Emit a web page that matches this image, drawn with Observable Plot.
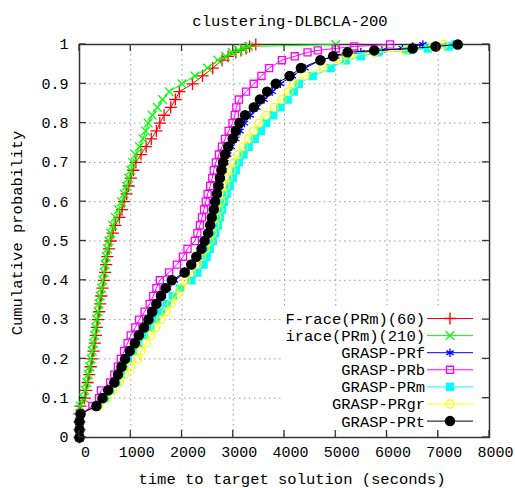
<!DOCTYPE html>
<html><head><meta charset="utf-8">
<script src="https://cdn.jsdelivr.net/npm/d3@7"></script>
<script src="https://cdn.jsdelivr.net/npm/@observablehq/plot@0.6"></script>
<style>
body{margin:0;background:#fff}
#chart svg{display:block}
</style>
</head><body><div id="chart"></div>
<script>
// ---------- text ----------
const titleText = "clustering-DLBCLA-200";
const xLabel = "time to target solution (seconds)";
const yLabel = "Cumulative probability";
const seriesNames = ["F-race(PRm)(60)", "irace(PRm)(210)", "GRASP-PRf", "GRASP-PRb", "GRASP-PRm", "GRASP-PRgr", "GRASP-PRt"];

// ---------- ticks ----------
const xTicks = [0, 1000, 2000, 3000, 4000, 5000, 6000, 7000, 8000];
const yTicks = [0, 0.1, 0.2, 0.3, 0.4, 0.5, 0.6, 0.7, 0.8, 0.9, 1];

// ---------- data: cumulative probability levels and time (s) read at each level ----------
const probLevels = [0,0.02,0.04,0.06,0.08,0.10,0.12,0.14,0.16,0.18,0.20,0.22,0.24,0.26,0.28,0.30,0.32,0.34,0.36,0.38,0.40,0.42,0.44,0.46,0.48,0.50,0.52,0.54,0.56,0.58,0.60,0.62,0.64,0.66,0.68,0.70,0.72,0.74,0.76,0.78,0.80,0.82,0.84,0.86,0.88,0.90,0.92,0.94,0.96,0.97,0.98,0.985,0.99,0.995,1];

const tFrace = [0,0,0,0,20,100,130,160,190,220,250,275,300,320,340,360,385,405,425,450,475,500,520,545,575,610,650,700,780,830,870,920,960,1000,1050,1100,1200,1300,1400,1500,1567,1650,1780,1870,1950,2205,2400,2600,2780,2900,3050,3150,3250,3320,3440];
const tIrace = [0,0,0,0,10,80,110,140,170,200,225,250,270,295,315,335,360,380,405,430,456,480,500,520,545,572,610,650,700,760,820,870,920,960,1000,1034,1090,1170,1240,1290,1340,1420,1520,1620,1750,2000,2250,2500,2700,2850,2980,3100,3200,3300,5000];
const tPRf = [0,0,0,20,320,460,580,700,770,840,910,1000,1100,1180,1280,1370,1450,1530,1620,1720,1850,2080,2200,2310,2400,2470,2530,2570,2610,2650,2680,2710,2740,2770,2800,2840,2890,2960,3050,3130,3220,3330,3460,3600,3760,3920,4150,4400,4700,5000,5490,5900,6300,6500,6700];
const tPRb = [0,0,0,20,250,383,420,600,680,750,806,870,940,1000,1090,1163,1270,1370,1440,1500,1567,1748,1900,2020,2107,2250,2300,2350,2390,2430,2464,2500,2550,2590,2620,2660,2720,2780,2840,2910,2985,3030,3060,3110,3250,3400,3550,3700,3950,4200,4450,4650,5000,5360,6060];
const tPRm = [0,0,0,20,350,500,600,720,800,870,943,1040,1150,1260,1380,1480,1590,1700,1820,1960,2185,2300,2420,2480,2540,2600,2650,2700,2740,2780,2820,2870,2930,2990,3050,3110,3200,3300,3420,3540,3640,3780,3920,4060,4180,4280,4550,4900,5200,5490,5825,6400,6800,7200,7340];
const tPRgr = [0,0,0,30,380,546,650,780,880,1000,1131,1200,1300,1390,1490,1586,1690,1790,1890,1980,2074,2180,2300,2380,2460,2540,2590,2640,2680,2720,2757,2800,2850,2900,2960,3017,3100,3200,3300,3400,3505,3640,3800,3950,4080,4175,4400,4750,5100,5294,5750,6365,6500,6900,7110];
const tPRt = [0,0,0,20,330,449,560,680,750,820,890,980,1080,1160,1260,1346,1420,1500,1590,1680,1800,2050,2180,2280,2380,2440,2510,2550,2580,2620,2645,2680,2710,2740,2770,2800,2840,2900,2990,3050,3120,3230,3400,3520,3660,3830,4100,4320,4700,4950,5230,5750,6500,6950,7380];

const seriesTimes = [tFrace, tIrace, tPRf, tPRb, tPRm, tPRgr, tPRt];

// ---------- styles ----------
const styles = [
  {color: "#ff0000", symbol: "plus", fill: "none", r: 4},
  {color: "#00ff00", symbol: "times", fill: "none", r: 4},
  {color: "#0000ff", symbol: "asterisk", fill: "none", r: 4},
  {color: "#ff00ff", symbol: "square", fill: "none", r: 4},
  {color: "#00ffff", symbol: "square", fill: "#00ffff", r: 4},
  {color: "#ffff00", symbol: "circle", fill: "none", r: 4},
  {color: "#000000", symbol: "circle", fill: "#000000", r: 4.6}
];
const FONT = "'Liberation Mono', 'DejaVu Sans Mono', monospace";
const W = 515, H = 488;

const marks = [
  Plot.gridX({ticks: xTicks.slice(1, -1), stroke: "#9a9a9a", strokeOpacity: 1, strokeDasharray: "1.5,3.5"}),
  Plot.gridY({ticks: yTicks.slice(1, -1), stroke: "#9a9a9a", strokeOpacity: 1, strokeDasharray: "1.5,3.5"}),
  Plot.frame({stroke: "#333", strokeWidth: 1.5}),
  Plot.axisX({ticks: xTicks, tickSize: 0, tickPadding: 9, label: null, dx: 6, tickFormat: d => String(d)}),
  Plot.axisY({ticks: yTicks, tickSize: 0, tickPadding: 11, label: null, tickFormat: d => String(d)})
];

seriesTimes.forEach((times, i) => {
  const s = styles[i];
  const data = probLevels.map((p, j) => ({series: seriesNames[i], t: times[j], p}));
  marks.push(Plot.line(data, {x: "t", y: "p", stroke: s.color, strokeWidth: 1}));
  marks.push(Plot.dot(data, {x: "t", y: "p", symbol: s.symbol, r: s.r, stroke: s.color, fill: s.fill, strokeWidth: 1.3}));
});

const chart = Plot.plot({
  width: W, height: H,
  marginLeft: 79, marginRight: 26, marginTop: 44, marginBottom: 51,
  x: {domain: [0, 8000]},
  y: {domain: [0, 1]},
  style: {fontFamily: FONT, fontSize: "15px", background: "#fff", color: "#000", overflow: "visible"},
  marks
});
document.getElementById("chart").appendChild(chart);

const svg = d3.select(chart);
const xs = chart.scale("x"), ys = chart.scale("y");
const x0 = xs.apply(8000 * 0), x1 = xs.apply(8000), y0 = ys.apply(0), y1 = ys.apply(1);
const TL = 7;

// inward mirrored ticks
const tg = svg.append("g").attr("stroke", "#333").attr("stroke-width", 1.3);
xTicks.forEach(v => {
  const px = xs.apply(v);
  tg.append("line").attr("x1", px).attr("x2", px).attr("y1", y0).attr("y2", y0 - TL);
  tg.append("line").attr("x1", px).attr("x2", px).attr("y1", y1).attr("y2", y1 + TL);
});
yTicks.forEach(v => {
  const py = ys.apply(v);
  tg.append("line").attr("y1", py).attr("y2", py).attr("x1", x0).attr("x2", x0 + TL);
  tg.append("line").attr("y1", py).attr("y2", py).attr("x1", x1).attr("x2", x1 - TL);
});

// titles
svg.append("text").attr("x", 290).attr("y", 25.5).attr("text-anchor", "middle")
  .attr("font-family", FONT).attr("font-size", 15.5).attr("fill", "#000").text(titleText);
svg.append("text").attr("x", 292).attr("y", 484).attr("text-anchor", "middle")
  .attr("font-family", FONT).attr("font-size", 15.5).attr("fill", "#000").text(xLabel);
svg.append("text").attr("transform", "translate(22,233) rotate(-90)").attr("text-anchor", "middle")
  .attr("font-family", FONT).attr("font-size", 15.5).attr("fill", "#000").text(yLabel);

// legend
const symMap = {plus: d3.symbolPlus, times: d3.symbolTimes, asterisk: d3.symbolAsterisk, square: d3.symbolSquare, circle: d3.symbolCircle};
const lg = svg.append("g");
lg.append("rect").attr("x", 284).attr("y", 308).attr("width", 196).attr("height", 122).attr("fill", "#fff");
seriesNames.forEach((name, i) => {
  const s = styles[i];
  const cy = 318.5 + i * 17.1;
  lg.append("text").attr("x", 425).attr("y", cy).attr("dy", "0.35em").attr("text-anchor", "end")
    .attr("font-family", FONT).attr("font-size", 15.5).attr("fill", "#000").text(name);
  lg.append("line").attr("x1", 427).attr("x2", 473).attr("y1", cy).attr("y2", cy)
    .attr("stroke", s.color).attr("stroke-width", 1);
  lg.append("path").attr("transform", `translate(450,${cy})`)
    .attr("d", d3.symbol(symMap[s.symbol], Math.PI * s.r * s.r)())
    .attr("fill", s.fill).attr("stroke", s.color).attr("stroke-width", 1.3);
});
</script>
</body></html>
